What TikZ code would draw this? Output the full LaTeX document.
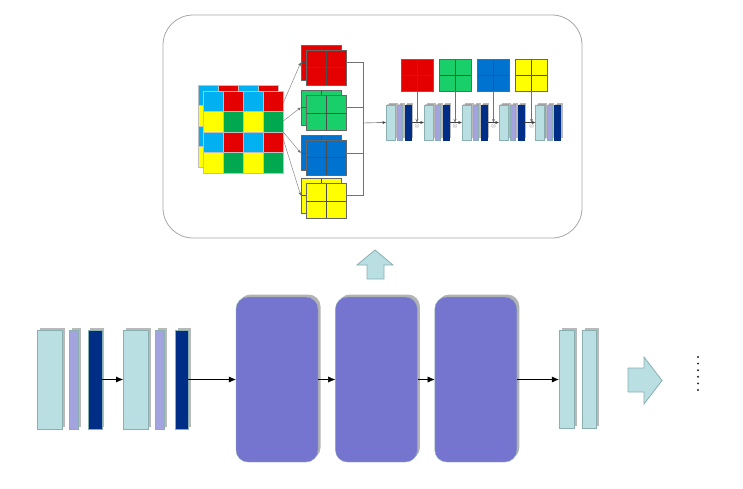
\documentclass[tikz,border=0pt]{standalone}
\usepackage{amssymb,amsmath}
\usetikzlibrary{positioning,shadows,arrows.meta,calc}

\definecolor{barcyan}{HTML}{B9DFE3}
\definecolor{barlav}{HTML}{A3A3E0}
\definecolor{bardark}{HTML}{002D86}
\definecolor{blockblue}{HTML}{7575D0}
\definecolor{edgeteal}{HTML}{8AAFB0}
\definecolor{gcyan}{HTML}{00B0F0}
\definecolor{gred}{HTML}{E50000}
\definecolor{gyellow}{HTML}{FFFF00}
\definecolor{ggreen}{HTML}{00A850}
\definecolor{qgreen}{HTML}{19CF6A}
\definecolor{qblue}{HTML}{0072D0}

\begin{document}
\begin{tikzpicture}[x=1pt,y=-1pt,
        bar/.style = {
            draw=edgeteal, 
            inner sep=0pt,
            minimum width=#1,
            drop shadow={shadow xshift=2.5pt, shadow yshift=2.5pt, opacity=0.55}
        },
        tallbar/.style = {bar=#1, minimum height=99pt},
        shortbar/.style = {bar=#1, minimum height=35pt, drop shadow={shadow xshift=1pt, shadow yshift=1pt, opacity=0.4}},
        block/.style = {
            draw=edgeteal, fill=blockblue,
            rounded corners=12pt,
            minimum width=82pt, minimum height=165pt,
            drop shadow={shadow xshift=2.5pt, shadow yshift=2.5pt, opacity=0.6}
        },
        quad/.style = {
            draw=black!60, fill=#1, inner sep=0pt,
            minimum width=40pt, minimum height=35pt,
            path picture={
                \draw[black!70] (path picture bounding box.north) -- (path picture bounding box.south);
                \draw[black!70] (path picture bounding box.west) -- (path picture bounding box.east);
            }
        },
        tile/.style = {quad=#1, minimum width=32pt, minimum height=32pt},
        link/.style = {draw=black!55, -{Stealth[length=3.5pt,width=3pt]}},
        flow/.style = {draw=black, -{Latex[length=7pt,width=6pt]}},
        fat/.style = {draw=edgeteal, fill=barcyan, line width=0.8pt}
    ]
    \useasboundingbox (0,0) rectangle (743,488);

    % top panel
    \node[draw=black!35, line width=0.8pt, rounded corners=30pt, minimum width=419pt, minimum height=223pt] (panel) at (372.5,126.5) {};

    % 4x4 mosaic, back layer then front layer
    \foreach \i in {0,1,2,3} {
        \foreach \j in {0,1,2,3} {
            \pgfmathsetmacro{\k}{int(mod(\i,2)+2*mod(\j,2))}
            \ifcase\k \def\cc{gcyan}\or \def\cc{gred}\or \def\cc{gyellow}\or \def\cc{ggreen}\fi
            \fill[\cc, draw=black!25] (198+20*\i,85+20.5*\j) rectangle ++(20,20.5);
        }
    }
    \foreach \i in {0,1,2,3} {
        \foreach \j in {0,1,2,3} {
            \pgfmathsetmacro{\k}{int(mod(\i,2)+2*mod(\j,2))}
            \ifcase\k \def\cc{gcyan}\or \def\cc{gred}\or \def\cc{gyellow}\or \def\cc{ggreen}\fi
            \fill[\cc, draw=black!25] (203+20*\i,91+20.5*\j) rectangle ++(20,20.5);
        }
    }
    \node[inner sep=0pt, minimum width=80pt, minimum height=82pt] (mosaic) at (243,132) {};

    % 2x2 feature maps
    \node[quad=gred] (redback) at (321,62.5) {};
    \node[quad=gred] (redmap) at (326,67.5) {};
    \node[quad=qgreen] (greenback) at (321,107.5) {};
    \node[quad=qgreen] (greenmap) at (326,113) {};
    \node[quad=qblue] (blueback) at (321,153) {};
    \node[quad=qblue] (bluemap) at (326,157.5) {};
    \node[quad=gyellow] (yellowback) at (321,195.5) {};
    \node[quad=gyellow] (yellowmap) at (326,201) {};

    \draw[link] ([yshift=29pt]mosaic.east) -- (redback.west);
    \draw[link] ([yshift=11pt]mosaic.east) -- (greenback.west);
    \draw[link] (mosaic.east) -- (blueback.west);
    \draw[link] ([yshift=-7pt]mosaic.east) -- (yellowback.west);

    \coordinate (merge) at (363,123);
    \draw[black!55] (redback.east -| redmap.east) -| (merge);
    \draw[black!55] (greenback.east -| greenmap.east) -| (merge);
    \draw[black!55] (blueback.east -| bluemap.east) -| (merge);
    \draw[black!55] (yellowback.east -| yellowmap.east) -| (merge);

    % attention tiles
    \node[tile=gred] (t1) at (417,75) {};
    \node[tile=qgreen] (t2) at (455,75) {};
    \node[tile=qblue] (t3) at (493.5,75) {};
    \node[tile=gyellow] (t4) at (531.5,75) {};

    % small residual units
    \foreach \n/\x in {1/390.5, 2/428.5, 3/466.5, 4/503.5, 5/540} {
        \node[shortbar=9pt, fill=barcyan] (sc\n) at (\x,122.5) {};
        \node[shortbar=5pt, fill=barlav, right=2pt of sc\n] (sl\n) {};
        \node[shortbar=6pt, fill=bardark, draw=bardark, right=2pt of sl\n] (sd\n) {};
    }
    \draw[link, draw=black!75] (merge) -- (sc1.west);
    \foreach \a/\b in {1/2, 2/3, 3/4, 4/5} {
        \draw[link, draw=black!75] (sd\a.east) -- (sc\b.west);
    }
    \foreach \t/\a/\b in {1/1/2, 2/2/3, 3/3/4, 4/4/5} {
        \coordinate (j\t) at ($(sd\a.east)!0.5!(sc\b.west)$);
        \draw[link] (t\t.south) -- (t\t.south |- j\t) node[below=1pt, inner sep=0pt, font=\tiny, text=black!50] {$\otimes$};
    }

    % up arrow
    \draw[fat] (367,279) -- (367,265) -- (357,265) -- (375,250) -- (393,265) -- (384,265) -- (384,279) -- cycle;

    % bottom row
    \node[tallbar=25pt, fill=barcyan] (c1) at (49.5,379.5) {};
    \node[tallbar=9pt, fill=barlav, right=7pt of c1] (l1) {};
    \node[tallbar=14pt, fill=bardark, right=9pt of l1] (d1) {};
    \node[tallbar=25pt, fill=barcyan, right=21pt of d1] (c2) {};
    \node[tallbar=9pt, fill=barlav, right=7pt of c2] (l2) {};
    \node[tallbar=13pt, fill=bardark, right=10pt of l2] (d2) {};

    \node[block] (b1) at (277,379.5) {};
    \node[block, right=17pt of b1] (b2) {};
    \node[block, right=17pt of b2] (b3) {};

    \node[tallbar=15pt, fill=barcyan, minimum height=98pt] (r1) at (566.5,379.5) {};
    \node[tallbar=14pt, fill=barcyan, minimum height=98pt, right=8pt of r1] (r2) {};

    \draw[flow] (d1) -- (c2);
    \draw[flow] (d2) -- (b1);
    \draw[flow] (b1) -- (b2);
    \draw[flow] (b2) -- (b3);
    \draw[flow] (b3) -- (r1);

    % right arrow
    \draw[fat] (628,368) -- (644,368) -- (644,357) -- (662,380.5) -- (644,404) -- (644,392) -- (628,392) -- cycle;

    % dots
    \foreach \k in {0,...,5} {
        \fill[black!85] (698,357+6.6*\k) circle (1.1pt);
    }
\end{tikzpicture}
\end{document}
